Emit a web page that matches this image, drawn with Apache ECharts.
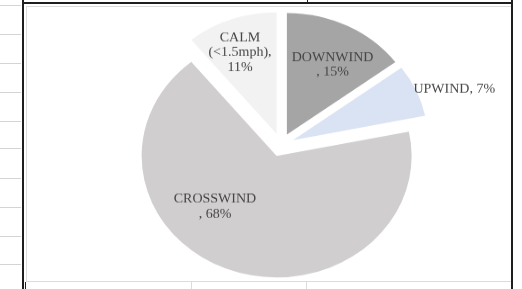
<!DOCTYPE html>
<html>
<head>
<meta charset="utf-8">
<script src="https://cdn.jsdelivr.net/npm/echarts@6/dist/echarts.min.js"></script>
<style>
  html, body { margin: 0; padding: 0; background: #fff; overflow: hidden; }
  #wrap { position: relative; width: 522px; height: 289px; }
  .ln { position: absolute; }
  /* the reference pie is a bit flattened, so the chart is squeezed vertically */
  #chart { position: absolute; left: 0; top: 0; width: 522px; height: 321px;
           transform: scaleY(0.9); transform-origin: 0 0; }
</style>
</head>
<body>
<div id="wrap">
  <div id="deco"></div>
  <div id="chart"></div>
</div>
<script>
// data
let categories = ['DOWNWIND', 'UPWIND', 'CROSSWIND', 'CALM\n(<1.5mph)'];
let values = [15, 7, 68, 11];
let separators = ['\n, ', ', ', '\n, ', ',\n'];
let colors = ['#a5a5a5', '#dae3f3', '#d0cece', '#f2f2f2'];

// label nudges from the default inside spot (layout only)
let labelShift = [[14, -14], [97, -28], [-38, -10], [-13, -24]];

// spreadsheet cell lines around the chart
let deco = document.getElementById('deco');
let addLine = function (l, t, w, h, c) {
  let d = document.createElement('div');
  d.className = 'ln';
  d.style.cssText = 'left:' + l + 'px;top:' + t + 'px;width:' + w + 'px;height:' + h + 'px;background:' + c;
  deco.appendChild(d);
};
[5, 34, 63, 92, 121, 148, 178, 207, 236, 264].forEach(function (y) {
  addLine(0, y, 21, 1, '#d4d4d4');
});
addLine(22, 0, 2, 289, '#1e1e1e');
addLine(24, 2, 489, 2, '#1e1e1e');
addLine(307, 0, 1, 3, '#1e1e1e');
addLine(511, 0, 2, 289, '#1e1e1e');
addLine(26, 6, 485, 1, '#dcdcdc');
addLine(26, 6, 1, 275, '#dcdcdc');
addLine(26, 281, 485, 1, '#dcdcdc');
addLine(25, 282, 1, 7, '#1e1e1e');
addLine(191, 282, 1, 7, '#dcdcdc');
addLine(306, 282, 1, 7, '#dcdcdc');

let pieData = values.map(function (v, i) {
  return { name: categories[i], value: v, selected: true, itemStyle: { color: colors[i] } };
});

let option = {
  backgroundColor: 'transparent',
  animation: false,
  series: [
    {
      type: 'pie',
      center: [281, 161],
      radius: 135,
      startAngle: 90,
      clockwise: true,
      selectedMode: 'multiple',
      selectedOffset: 13,
      avoidLabelOverlap: false,
      emphasis: { disabled: true },
      itemStyle: { borderWidth: 0 },
      label: {
        show: true,
        position: 'inside',
        fontFamily: 'Liberation Serif',
        fontSize: 14,
        lineHeight: 16.5,
        color: '#454545',
        formatter: function (p) {
          return p.name + separators[p.dataIndex] + p.value + '%';
        }
      },
      labelLine: { show: false },
      labelLayout: function (params) {
        return { dx: labelShift[params.dataIndex][0], dy: labelShift[params.dataIndex][1] };
      },
      data: pieData
    }
  ]
};
let myChart = echarts.init(document.getElementById('chart'));
myChart.setOption(option);
</script>
</body>
</html>
